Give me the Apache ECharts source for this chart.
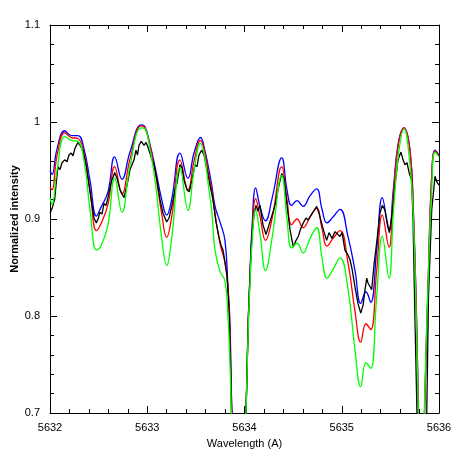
<!DOCTYPE html>
<html>
<head>
<meta charset="utf-8">
<script src="https://cdn.jsdelivr.net/npm/echarts@6/dist/echarts.min.js"></script>
<style>
  html, body { margin: 0; padding: 0; background: #fff; }
  #chart { width: 463px; height: 463px; }
</style>
</head>
<body>
<div id="chart"></div>
<script>
// model spectra share one wavelength grid
const modelWave = [
  5632.000, 5632.021, 5632.072, 5632.151, 5632.219, 5632.288, 5632.350, 5632.411, 5632.478, 5632.524,
  5632.596, 5632.665, 5632.740, 5632.823, 5632.939, 5632.977, 5633.028, 5633.080, 5633.149, 5633.200,
  5633.251, 5633.337, 5633.419, 5633.481, 5633.548, 5633.594, 5633.628, 5633.663, 5633.697, 5633.748,
  5633.799, 5633.830, 5633.851, 5633.871, 5633.943, 5634.015, 5634.039, 5634.057, 5634.074, 5634.115,
  5634.159, 5634.216, 5634.283, 5634.383, 5634.437, 5634.485, 5634.540, 5634.602, 5634.674, 5634.742,
  5634.797, 5634.848, 5634.910, 5634.982, 5635.064, 5635.136, 5635.195, 5635.249, 5635.298, 5635.359,
  5635.417, 5635.486, 5635.530, 5635.581, 5635.640, 5635.702, 5635.736, 5635.771, 5635.787, 5635.815,
  5635.851, 5635.890, 5635.925, 5635.959, 5636.000
]
const blueFlux = [
  0.950, 0.946, 0.972, 0.991, 0.986, 0.986, 0.972, 0.940, 0.903, 0.912,
  0.928, 0.964, 0.941, 0.969, 0.997, 0.995, 0.977, 0.954, 0.920, 0.904,
  0.920, 0.968, 0.942, 0.968, 0.984, 0.970, 0.954, 0.935, 0.913, 0.897,
  0.878, 0.830, 0.790, 0.690, 0.500, 0.700, 0.796, 0.844, 0.885, 0.932,
  0.913, 0.898, 0.921, 0.963, 0.930, 0.914, 0.919, 0.913, 0.924, 0.931,
  0.910, 0.896, 0.902, 0.910, 0.882, 0.847, 0.813, 0.825, 0.814, 0.868,
  0.922, 0.888, 0.930, 0.978, 0.994, 0.971, 0.909, 0.789, 0.703, 0.550,
  0.700, 0.840, 0.944, 0.971, 0.966
]
const redFlux = [
  0.933, 0.930, 0.965, 0.989, 0.984, 0.983, 0.968, 0.930, 0.888, 0.895,
  0.915, 0.954, 0.926, 0.962, 0.996, 0.994, 0.975, 0.950, 0.905, 0.881,
  0.902, 0.961, 0.930, 0.960, 0.981, 0.967, 0.948, 0.930, 0.905, 0.875,
  0.855, 0.830, 0.785, 0.680, 0.500, 0.700, 0.796, 0.840, 0.878, 0.921,
  0.903, 0.878, 0.900, 0.954, 0.920, 0.894, 0.900, 0.891, 0.902, 0.911,
  0.890, 0.872, 0.880, 0.888, 0.855, 0.805, 0.773, 0.792, 0.786, 0.847,
  0.904, 0.871, 0.925, 0.976, 0.994, 0.970, 0.909, 0.789, 0.703, 0.550,
  0.700, 0.840, 0.944, 0.970, 0.965
]
const greenFlux = [
  0.922, 0.915, 0.950, 0.985, 0.981, 0.980, 0.960, 0.910, 0.868, 0.872,
  0.894, 0.942, 0.907, 0.955, 0.994, 0.993, 0.972, 0.940, 0.880, 0.852,
  0.880, 0.953, 0.909, 0.950, 0.978, 0.962, 0.935, 0.909, 0.868, 0.846,
  0.836, 0.800, 0.750, 0.680, 0.500, 0.700, 0.790, 0.835, 0.870, 0.909,
  0.885, 0.847, 0.880, 0.945, 0.900, 0.870, 0.875, 0.865, 0.880, 0.891,
  0.860, 0.839, 0.848, 0.860, 0.828, 0.765, 0.727, 0.752, 0.746, 0.820,
  0.882, 0.839, 0.905, 0.965, 0.993, 0.955, 0.900, 0.775, 0.700, 0.550,
  0.710, 0.840, 0.930, 0.969, 0.964
]

// observed spectrum (noisy) on its own grid
const obsWave = [
  5632.000, 5632.021, 5632.048, 5632.062, 5632.082, 5632.103, 5632.123, 5632.151, 5632.175, 5632.195,
  5632.219, 5632.237, 5632.257, 5632.288, 5632.308, 5632.339, 5632.370, 5632.401, 5632.432, 5632.452,
  5632.476, 5632.494, 5632.514, 5632.535, 5632.555, 5632.576, 5632.596, 5632.627, 5632.665, 5632.689,
  5632.720, 5632.761, 5632.792, 5632.823, 5632.843, 5632.864, 5632.884, 5632.900, 5632.915, 5632.939,
  5632.967, 5632.987, 5633.008, 5633.028, 5633.049, 5633.069, 5633.100, 5633.131, 5633.162, 5633.200,
  5633.224, 5633.254, 5633.285, 5633.306, 5633.337, 5633.357, 5633.378, 5633.409, 5633.432, 5633.460,
  5633.491, 5633.512, 5633.532, 5633.560, 5633.584, 5633.614, 5633.645, 5633.676, 5633.707, 5633.738,
  5633.758, 5633.779, 5633.799, 5633.820, 5633.841, 5633.861, 5633.877, 5633.943, 5634.015, 5634.039,
  5634.057, 5634.074, 5634.098, 5634.118, 5634.139, 5634.159, 5634.190, 5634.221, 5634.252, 5634.283,
  5634.314, 5634.344, 5634.383, 5634.406, 5634.437, 5634.468, 5634.502, 5634.530, 5634.553, 5634.581,
  5634.605, 5634.632, 5634.656, 5634.684, 5634.715, 5634.742, 5634.766, 5634.797, 5634.817, 5634.845,
  5634.869, 5634.900, 5634.931, 5634.961, 5634.982, 5635.003, 5635.033, 5635.064, 5635.085, 5635.105,
  5635.136, 5635.167, 5635.195, 5635.219, 5635.239, 5635.257, 5635.270, 5635.290, 5635.308, 5635.332,
  5635.362, 5635.393, 5635.417, 5635.445, 5635.489, 5635.517, 5635.548, 5635.578, 5635.609, 5635.630,
  5635.650, 5635.671, 5635.692, 5635.719, 5635.733, 5635.753, 5635.774, 5635.820, 5635.874, 5635.892,
  5635.925, 5635.959, 5635.979, 5636.000
]
const obsFlux = [
  0.906, 0.911, 0.920, 0.935, 0.954, 0.951, 0.958, 0.961, 0.959, 0.966,
  0.968, 0.965, 0.973, 0.979, 0.976, 0.971, 0.956, 0.935, 0.914, 0.901,
  0.896, 0.900, 0.907, 0.905, 0.916, 0.914, 0.922, 0.937, 0.948, 0.942,
  0.930, 0.922, 0.935, 0.951, 0.956, 0.961, 0.971, 0.966, 0.976, 0.980,
  0.976, 0.979, 0.974, 0.974, 0.961, 0.956, 0.940, 0.920, 0.906, 0.897,
  0.901, 0.914, 0.930, 0.937, 0.956, 0.953, 0.940, 0.930, 0.928, 0.940,
  0.956, 0.954, 0.966, 0.971, 0.966, 0.951, 0.935, 0.920, 0.897, 0.881,
  0.873, 0.868, 0.856, 0.842, 0.806, 0.734, 0.682, 0.500, 0.700, 0.796,
  0.844, 0.880, 0.905, 0.914, 0.908, 0.914, 0.894, 0.884, 0.894, 0.904,
  0.914, 0.930, 0.947, 0.942, 0.914, 0.889, 0.871, 0.878, 0.882, 0.891,
  0.896, 0.901, 0.899, 0.904, 0.909, 0.913, 0.906, 0.894, 0.887, 0.878,
  0.886, 0.880, 0.887, 0.884, 0.882, 0.886, 0.868, 0.863, 0.858, 0.849,
  0.830, 0.813, 0.803, 0.811, 0.827, 0.839, 0.834, 0.832, 0.827, 0.853,
  0.878, 0.906, 0.914, 0.909, 0.886, 0.904, 0.935, 0.961, 0.969, 0.961,
  0.956, 0.958, 0.948, 0.940, 0.899, 0.796, 0.698, 0.500, 0.700, 0.820,
  0.909, 0.944, 0.938, 0.935
]

const xTicks = [5632, 5633, 5634, 5635, 5636]
const yTicks = [0.7, 0.8, 0.9, 1, 1.1]

const zip = (xs, ys) => xs.map((x, i) => [x, ys[i]])

const chart = echarts.init(document.getElementById('chart'), null, { renderer: 'canvas' })

const font = 'Liberation Sans, Arial, sans-serif'
const axisLine = { show: true, onZero: false, lineStyle: { color: '#000', width: 1 } }
const tick = { show: true, inside: true, length: 7, lineStyle: { color: '#000' } }
const minor = { show: true, splitNumber: 5, length: 4, lineStyle: { color: '#000' } }

function xAxisOf(pos, labels) {
  return {
    type: 'value',
    position: pos,
    min: xTicks[0],
    max: xTicks[xTicks.length - 1],
    interval: 1,
    axisLine,
    axisTick: tick,
    minorTick: minor,
    splitLine: { show: false },
    axisLabel: {
      show: labels, color: '#000', fontSize: 11, fontFamily: font, margin: 9,
      formatter: (v) => String(v),
    },
    name: labels ? 'Wavelength (A)' : '',
    nameLocation: 'middle',
    nameGap: 25,
    nameMoveOverlap: false,
    nameTextStyle: { color: '#000', fontSize: 11, fontFamily: font },
  }
}

function yAxisOf(pos, labels) {
  return {
    type: 'value',
    position: pos,
    min: yTicks[0],
    max: yTicks[yTicks.length - 1],
    interval: 0.1,
    axisLine,
    axisTick: tick,
    minorTick: minor,
    splitLine: { show: false },
    axisLabel: {
      show: labels, color: '#000', fontSize: 11, fontFamily: font, margin: 10,
      formatter: (v) => String(Math.round(v * 10) / 10),
    },
    name: labels ? 'Normalized intensity' : '',
    nameLocation: 'middle',
    nameGap: 30,
    nameMoveOverlap: false,
    nameTextStyle: { color: '#000', fontSize: 11, fontFamily: font, fontWeight: 'bold' },
  }
}

function lineOf(name, data, color, smooth) {
  return {
    name,
    type: 'line',
    data,
    showSymbol: false,
    smooth,
    clip: true,
    lineStyle: { color, width: 1.3 },
    itemStyle: { color },
  }
}

chart.setOption({
  animation: false,
  backgroundColor: '#fff',
  grid: { left: 50, right: 24, top: 25, bottom: 50, containLabel: false, outerBoundsMode: 'none' },
  xAxis: [xAxisOf('bottom', true), xAxisOf('top', false)],
  yAxis: [yAxisOf('left', true), yAxisOf('right', false)],
  series: [
    lineOf('blue', zip(modelWave, blueFlux), '#0000ff', 0.45),
    lineOf('red', zip(modelWave, redFlux), '#ff0000', 0.45),
    lineOf('obs', zip(obsWave, obsFlux), '#000000', false),
    lineOf('green', zip(modelWave, greenFlux), '#00ff00', 0.45),
  ],
})
</script>
</body>
</html>
